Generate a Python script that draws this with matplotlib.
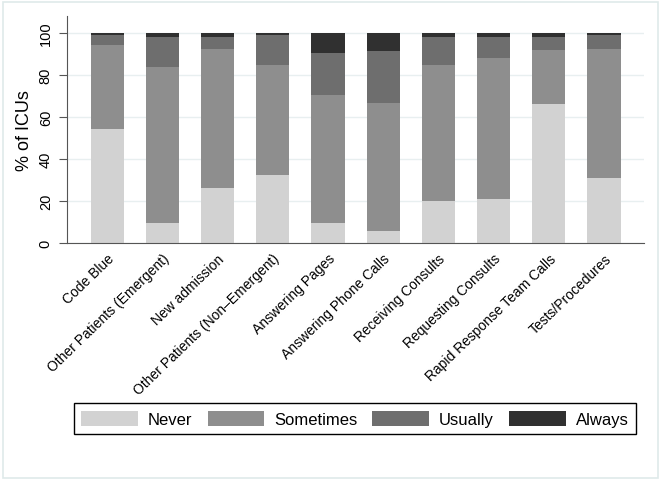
import numpy as np
import matplotlib.pyplot as plt
from matplotlib.patches import Rectangle

plt.rcParams['font.family'] = ['Liberation Sans', 'DejaVu Sans']

activities = ["Code Blue", "Other Patients (Emergent)", "New admission",
              "Other Patients (Non\u2013Emergent)", "Answering Pages",
              "Answering Phone Calls", "Receiving Consults",
              "Requesting Consults", "Rapid Response Team Calls",
              "Tests/Procedures"]

# % of ICUs in each response category
never = [54.3, 9.5, 26.0, 32.4, 9.5, 5.7, 20.0, 20.8, 66.0, 30.8]
sometimes = [39.8, 74.2, 66.2, 52.4, 60.7, 61.0, 64.8, 67.3, 25.9, 61.4]
usually = [4.9, 14.4, 5.9, 14.2, 20.1, 24.7, 13.3, 10.0, 6.2, 6.8]
always = [1.0, 1.9, 1.9, 1.0, 9.7, 8.6, 1.9, 1.9, 1.9, 1.0]

series = [("Never", never, "#d2d2d2"),
          ("Sometimes", sometimes, "#8e8e8e"),
          ("Usually", usually, "#6e6e6e"),
          ("Always", always, "#303030")]

fig = plt.figure(figsize=(6.61, 4.81), dpi=100)
ax = fig.add_axes([0.101, 0.493, 0.873, 0.472])

x = np.arange(len(activities))
bottom = np.zeros(len(activities))
for name, vals, col in series:
    ax.bar(x, vals, 0.6, bottom=bottom, color=col, label=name, zorder=2)
    bottom += np.array(vals)

ax.set_xlim(-0.73, 9.72)
ax.set_ylim(0, 108.1)
ax.set_yticks([0, 20, 40, 60, 80, 100])
ax.grid(axis='y', color='#e8eff0', lw=1, zorder=0)
ax.set_xticks(x)
ax.set_xticklabels(activities, rotation=44, ha='right', va='top',
                   rotation_mode='anchor', fontsize=10)
ax.tick_params(axis='x', length=0, pad=6)
ax.tick_params(axis='y', length=6, color='#555555', labelsize=10.5, pad=4)
for lab in ax.get_yticklabels():
    lab.set_rotation(90)
    lab.set_va('center')
ax.set_ylabel("% of ICUs", fontsize=13, labelpad=4)
for s in ['top', 'right']:
    ax.spines[s].set_visible(False)
for s in ['left', 'bottom']:
    ax.spines[s].set_color('#555555')

leg = fig.legend(loc='center', bbox_to_anchor=(0.537, 0.127), ncol=4,
                 fontsize=12, frameon=True, fancybox=False, framealpha=1,
                 edgecolor='black', handlelength=3.4, handleheight=1.0,
                 handletextpad=0.6, columnspacing=0.9, borderpad=0.45)
leg.get_frame().set_linewidth(1.0)

fig.patches.append(Rectangle((3 / 661, 2 / 481), 655 / 661, 476 / 481,
                             transform=fig.transFigure, fill=False,
                             edgecolor='#dfeaea', lw=1.2))

fig.savefig("out.png", dpi=100)
